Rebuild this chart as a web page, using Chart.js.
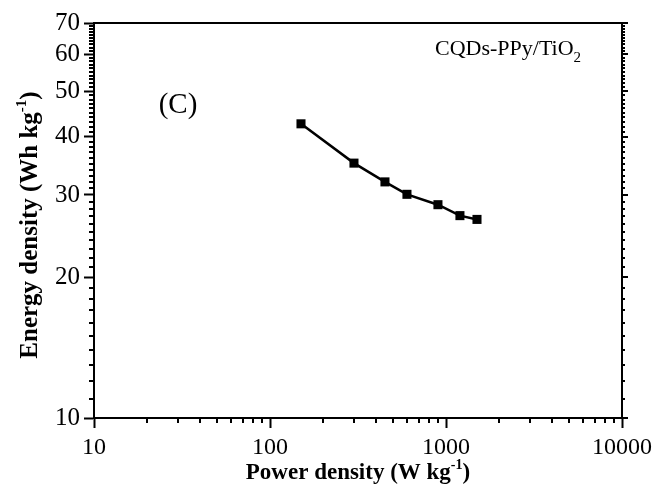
<!DOCTYPE html>
<html>
<head>
<meta charset="utf-8">
<script src="https://cdn.jsdelivr.net/npm/chart.js@4"></script>
<style>
  html, body { margin: 0; padding: 0; background: #fff; }
</style>
</head>
<body>
<canvas id="chart" width="657" height="496"></canvas>
<script>
// --- data ---
const powerDensity = [150, 300, 450, 600, 900, 1200, 1500];
const energyDensity = [42.6, 35.1, 32.0, 30.1, 28.6, 27.1, 26.6];
const xTickLabels = [10, 100, 1000, 10000];
const yTickLabels = [10, 20, 30, 40, 50, 60, 70];

const FONT = '"Liberation Serif", "Times New Roman", serif';

// x: 1..9 per decade, y: every integer
function xTickValues() {
    const vals = [];
    const last = xTickLabels[xTickLabels.length - 1];
    for (let d = xTickLabels[0]; d < last; d *= 10) {
        for (let k = 1; k < 10; k++) vals.push(k * d);
    }
    vals.push(last);
    return vals;
}
function yTickValues() {
    const vals = [];
    for (let v = yTickLabels[0]; v <= yTickLabels[yTickLabels.length - 1]; v++) vals.push(v);
    return vals;
}

// draw a run of text pieces (for super/subscripts), centred on x
function drawRuns(ctx, runs, x, y, align) {
    let total = 0;
    runs.forEach(r => {
        ctx.font = (r.bold ? 'bold ' : '') + r.size + 'px ' + FONT;
        r.w = ctx.measureText(r.text).width;
        total += r.w;
    });
    let cx = align === 'left' ? x : x - total / 2;
    ctx.textAlign = 'left';
    ctx.textBaseline = 'alphabetic';
    runs.forEach(r => {
        ctx.font = (r.bold ? 'bold ' : '') + r.size + 'px ' + FONT;
        ctx.fillText(r.text, cx, y + (r.dy || 0));
        cx += r.w;
    });
}

const extras = {
    id: 'extras',
    afterDraw(chart) {
        const ctx = chart.ctx;
        const { left, right, top, bottom } = chart.chartArea;
        const xs = chart.scales.x, ys = chart.scales.y;
        ctx.save();
        ctx.strokeStyle = '#000';
        ctx.fillStyle = '#000';

        // top and right frame
        ctx.lineWidth = 2;
        ctx.beginPath();
        ctx.moveTo(left - 1, top);
        ctx.lineTo(right, top);
        ctx.lineTo(right, bottom);
        ctx.stroke();

        // minor ticks (shorter)
        ctx.lineWidth = 2;
        ctx.beginPath();
        xs.ticks.forEach(t => {
            if (xTickLabels.includes(t.value)) return;
            const px = Math.round(xs.getPixelForValue(t.value));
            ctx.moveTo(px, bottom);
            ctx.lineTo(px, bottom + 5);
        });
        ys.ticks.forEach(t => {
            const py = Math.round(ys.getPixelForValue(t.value));
            if (!yTickLabels.includes(t.value)) {
                ctx.moveTo(left, py);
                ctx.lineTo(left - 5, py);
            }
            // mirrored ticks on the right axis
            ctx.moveTo(right, py);
            ctx.lineTo(right + (yTickLabels.includes(t.value) ? 6 : 3), py);
        });
        ctx.stroke();

        // axis titles
        drawRuns(ctx, [
            { text: 'Power density (W kg', size: 23, bold: true },
            { text: '-1', size: 14, bold: true, dy: -10 },
            { text: ')', size: 23, bold: true }
        ], (left + right) / 2, 479);

        ctx.save();
        ctx.translate(37, 225);
        ctx.rotate(-Math.PI / 2);
        drawRuns(ctx, [
            { text: 'Energy density (Wh kg', size: 25, bold: true },
            { text: '-1', size: 15, bold: true, dy: -11 },
            { text: ')', size: 25, bold: true }
        ], 0, 0);
        ctx.restore();

        // panel letter and sample name
        drawRuns(ctx, [{ text: '(C)', size: 29 }], 178, 113);
        drawRuns(ctx, [
            { text: 'CQDs-PPy/TiO', size: 22 },
            { text: '2', size: 15, dy: 7 }
        ], 435, 55, 'left');

        ctx.restore();
    }
};

const ctx = document.getElementById('chart').getContext('2d');
new Chart(ctx, {
    type: 'line',
    data: {
        datasets: [{
            label: 'CQDs-PPy/TiO2',
            data: powerDensity.map((p, i) => ({ x: p, y: energyDensity[i] })),
            borderColor: '#000',
            backgroundColor: '#000',
            borderWidth: 2.5,
            pointStyle: 'rect',
            pointRadius: 6.4,
            pointBorderWidth: 0,
            pointBackgroundColor: '#000',
            tension: 0,
            fill: false
        }]
    },
    options: {
        responsive: false,
        animation: false,
        layout: { padding: { left: 0, top: 23, right: 29, bottom: 0 } },
        plugins: {
            legend: { display: false },
            tooltip: { enabled: false }
        },
        scales: {
            x: {
                type: 'logarithmic',
                position: 'bottom',
                min: 10,
                max: 10000,
                afterBuildTicks: (scale) => {
                    scale.ticks = xTickValues().map(v => ({ value: v }));
                },
                afterFit: (scale) => { scale.height = 78; },
                border: { display: true, color: '#000', width: 2 },
                grid: {
                    display: true,
                    drawOnChartArea: false,
                    drawTicks: true,
                    tickLength: 10,
                    tickWidth: 2,
                    tickColor: (c) => (c.tick && xTickLabels.includes(c.tick.value)) ? '#000' : 'rgba(0,0,0,0)'
                },
                ticks: {
                    autoSkip: false,
                    maxRotation: 0,
                    padding: 5,
                    color: '#000',
                    font: { family: FONT, size: 24 },
                    callback: (v) => xTickLabels.includes(v) ? String(v) : ''
                }
            },
            y: {
                type: 'logarithmic',
                position: 'left',
                min: 10,
                max: 70,
                afterBuildTicks: (scale) => {
                    scale.ticks = yTickValues().map(v => ({ value: v }));
                },
                afterFit: (scale) => { scale.width = 94; },
                border: { display: true, color: '#000', width: 2 },
                grid: {
                    display: true,
                    drawOnChartArea: false,
                    drawTicks: true,
                    tickLength: 10,
                    tickWidth: 2,
                    tickColor: (c) => (c.tick && yTickLabels.includes(c.tick.value)) ? '#000' : 'rgba(0,0,0,0)'
                },
                ticks: {
                    autoSkip: false,
                    padding: 4,
                    color: '#000',
                    font: { family: FONT, size: 25 },
                    callback: (v) => yTickLabels.includes(v) ? String(v) : ''
                }
            }
        }
    },
    plugins: [extras]
});
</script>
</body>
</html>
